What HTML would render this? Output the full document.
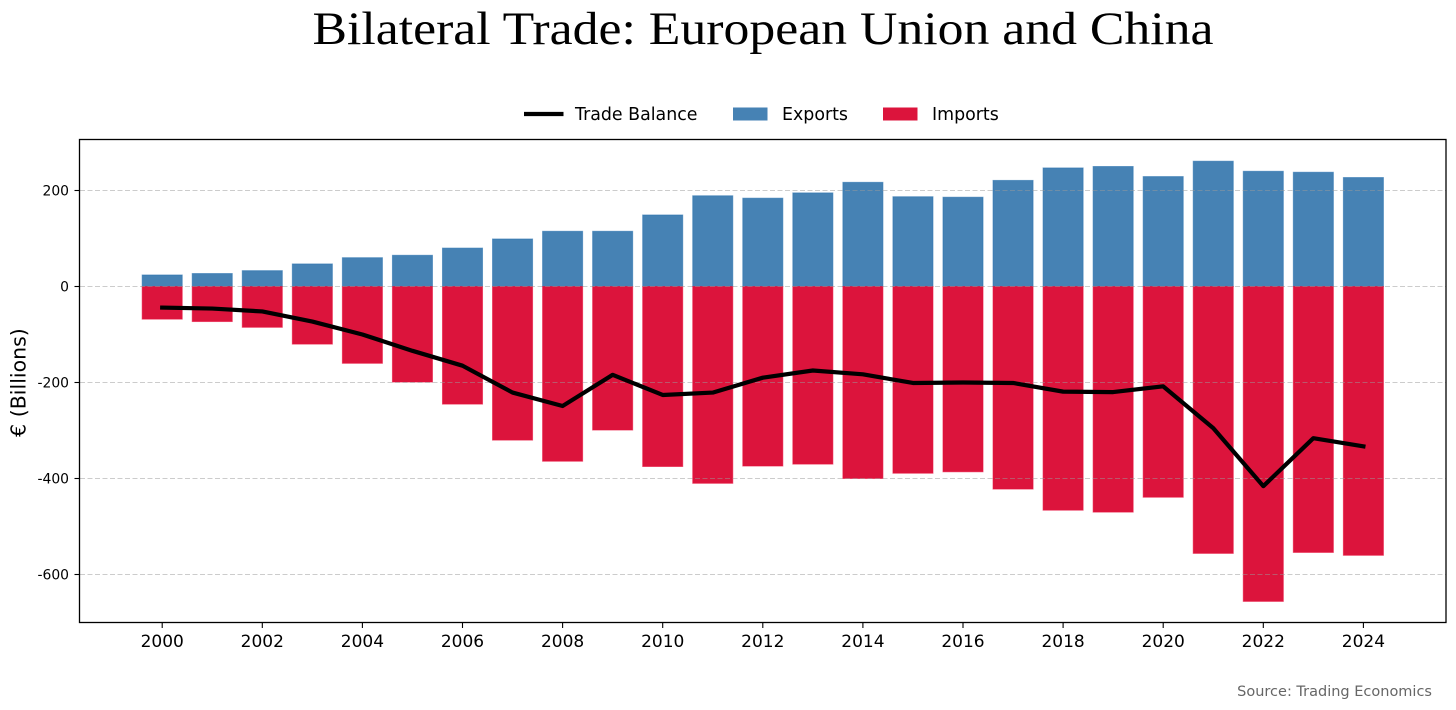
<!DOCTYPE html>
<html lang="en">
<head>
<meta charset="utf-8">
<title>Bilateral Trade: European Union and China</title>
<style>
html,body{margin:0;padding:0;background:#fff;width:1456px;height:710px;overflow:hidden}
svg{display:block}
text{font-family:"DejaVu Sans","Liberation Sans",sans-serif;fill:#000}
</style>
</head>
<body>
<svg id="chart" xmlns="http://www.w3.org/2000/svg" width="1456" height="710" viewBox="0 0 1456 710">
  <text x="763" y="44" text-anchor="middle" textLength="901" lengthAdjust="spacingAndGlyphs" style="font-family:'Liberation Serif',serif;font-size:47px">Bilateral Trade: European Union and China</text>
  <g id="bars"></g>
  <g id="grid"></g>
  <g id="line"></g>
  <rect x="79.5" y="139.5" width="1366.5" height="483" fill="none" stroke="#000" stroke-width="1.3"></rect>
  <g id="axes"></g>
  <text transform="translate(25.5,382.5) rotate(-90)" text-anchor="middle" style="font-size:20.5px">€ (Billions)</text>
  <g>
    <line x1="524" y1="114" x2="563.5" y2="114" stroke="#000" stroke-width="4.2"></line>
    <text x="575" y="120" style="font-size:17.4px">Trade Balance</text>
    <rect x="733" y="107.5" width="34.5" height="13" fill="#4682B4"></rect>
    <text x="782" y="120" style="font-size:17.4px">Exports</text>
    <rect x="883" y="107.5" width="34.5" height="13" fill="#DC143C"></rect>
    <text x="932" y="120" style="font-size:17.4px">Imports</text>
  </g>
  <text x="1432" y="696" text-anchor="end" style="font-size:14.5px;fill:#666">Source: Trading Economics</text>
</svg>
<script>
const years = [2000,2001,2002,2003,2004,2005,2006,2007,2008,2009,2010,2011,2012,2013,2014,2015,2016,2017,2018,2019,2020,2021,2022,2023,2024];
const exportsValues = [24,27,33,47,60,65,80,99,115,115,149,189,184,195,217,187,186,221,247,250,229,261,240,238,227];
const importsValues = [-68,-73,-85,-120,-160,-199,-245,-320,-364,-299,-375,-410,-374,-370,-400,-389,-386,-422,-466,-470,-439,-556,-656,-554,-560];
const balanceValues = [-44,-46,-52,-73,-100,-134,-165,-221,-249,-184,-226,-221,-190,-175,-183,-201,-200,-201,-219,-220,-208,-295,-416,-316,-333];
const xTickLabels = [2000,2002,2004,2006,2008,2010,2012,2014,2016,2018,2020,2022,2024];
const yTickLabels = [200,0,-200,-400,-600];

const NS = 'http://www.w3.org/2000/svg';
function xScale(v){ return 162.2 + (v - 2000) * 50.05; }
function yScale(v){ return 286.5 - v * 0.48; }
function make(tag, attrs, parent){
  const el = document.createElementNS(NS, tag);
  for (const k in attrs) el.setAttribute(k, attrs[k]);
  parent.appendChild(el);
  return el;
}
const barsLayer = document.getElementById('bars');
const gridLayer = document.getElementById('grid');
const lineLayer = document.getElementById('line');
const axesLayer = document.getElementById('axes');
const barWidth = 0.8;

years.forEach(function(year, i){
  const left = xScale(year - barWidth / 2);
  const w = xScale(year + barWidth / 2) - left;
  const exp = make('rect', {x: left, y: yScale(exportsValues[i]), width: w, height: yScale(0) - yScale(exportsValues[i]), fill: '#4682B4', stroke: '#2f74b0', 'stroke-opacity': 0.6, 'stroke-width': 1}, barsLayer);
  
  
  const imp = make('rect', {x: left, y: yScale(0), width: w, height: yScale(importsValues[i]) - yScale(0), fill: '#DC143C', stroke: '#e8103c', 'stroke-opacity': 0.6, 'stroke-width': 1}, barsLayer);
  
  
});

yTickLabels.forEach(function(v){
  const y = yScale(v);
  const g = make('line', {x1: 80, x2: 1446, y1: y, y2: y, stroke: '#999', 'stroke-opacity': 0.5, 'stroke-width': 1, 'stroke-dasharray': '5 2.5'}, gridLayer);
  
  
  const t = make('line', {x1: 74.5, x2: 79.5, y1: y, y2: y, stroke: '#000', 'stroke-width': 1.1}, axesLayer);
  
  
  const lab = make('text', {x: 69, y: y + 5, 'text-anchor': 'end', style: 'font-size:13.9px'}, axesLayer);
  lab.textContent = String(v);
  
  
});

xTickLabels.forEach(function(v){
  const x = xScale(v);
  const t = make('line', {x1: x, x2: x, y1: 622.5, y2: 628, stroke: '#000', 'stroke-width': 1.1}, axesLayer);
  
  
  const lab = make('text', {x: x, y: 647, 'text-anchor': 'middle', style: 'font-size:17px'}, axesLayer);
  lab.textContent = String(v);
  
  
});

const points = years.map(function(year, i){ return xScale(year) + ',' + yScale(balanceValues[i]); }).join(' ');
const balanceLine = make('polyline', {points: points, fill: 'none', stroke: '#000', 'stroke-width': 4.2, 'stroke-linejoin': 'round', 'stroke-linecap': 'square'}, lineLayer);


</script>
</body>
</html>
